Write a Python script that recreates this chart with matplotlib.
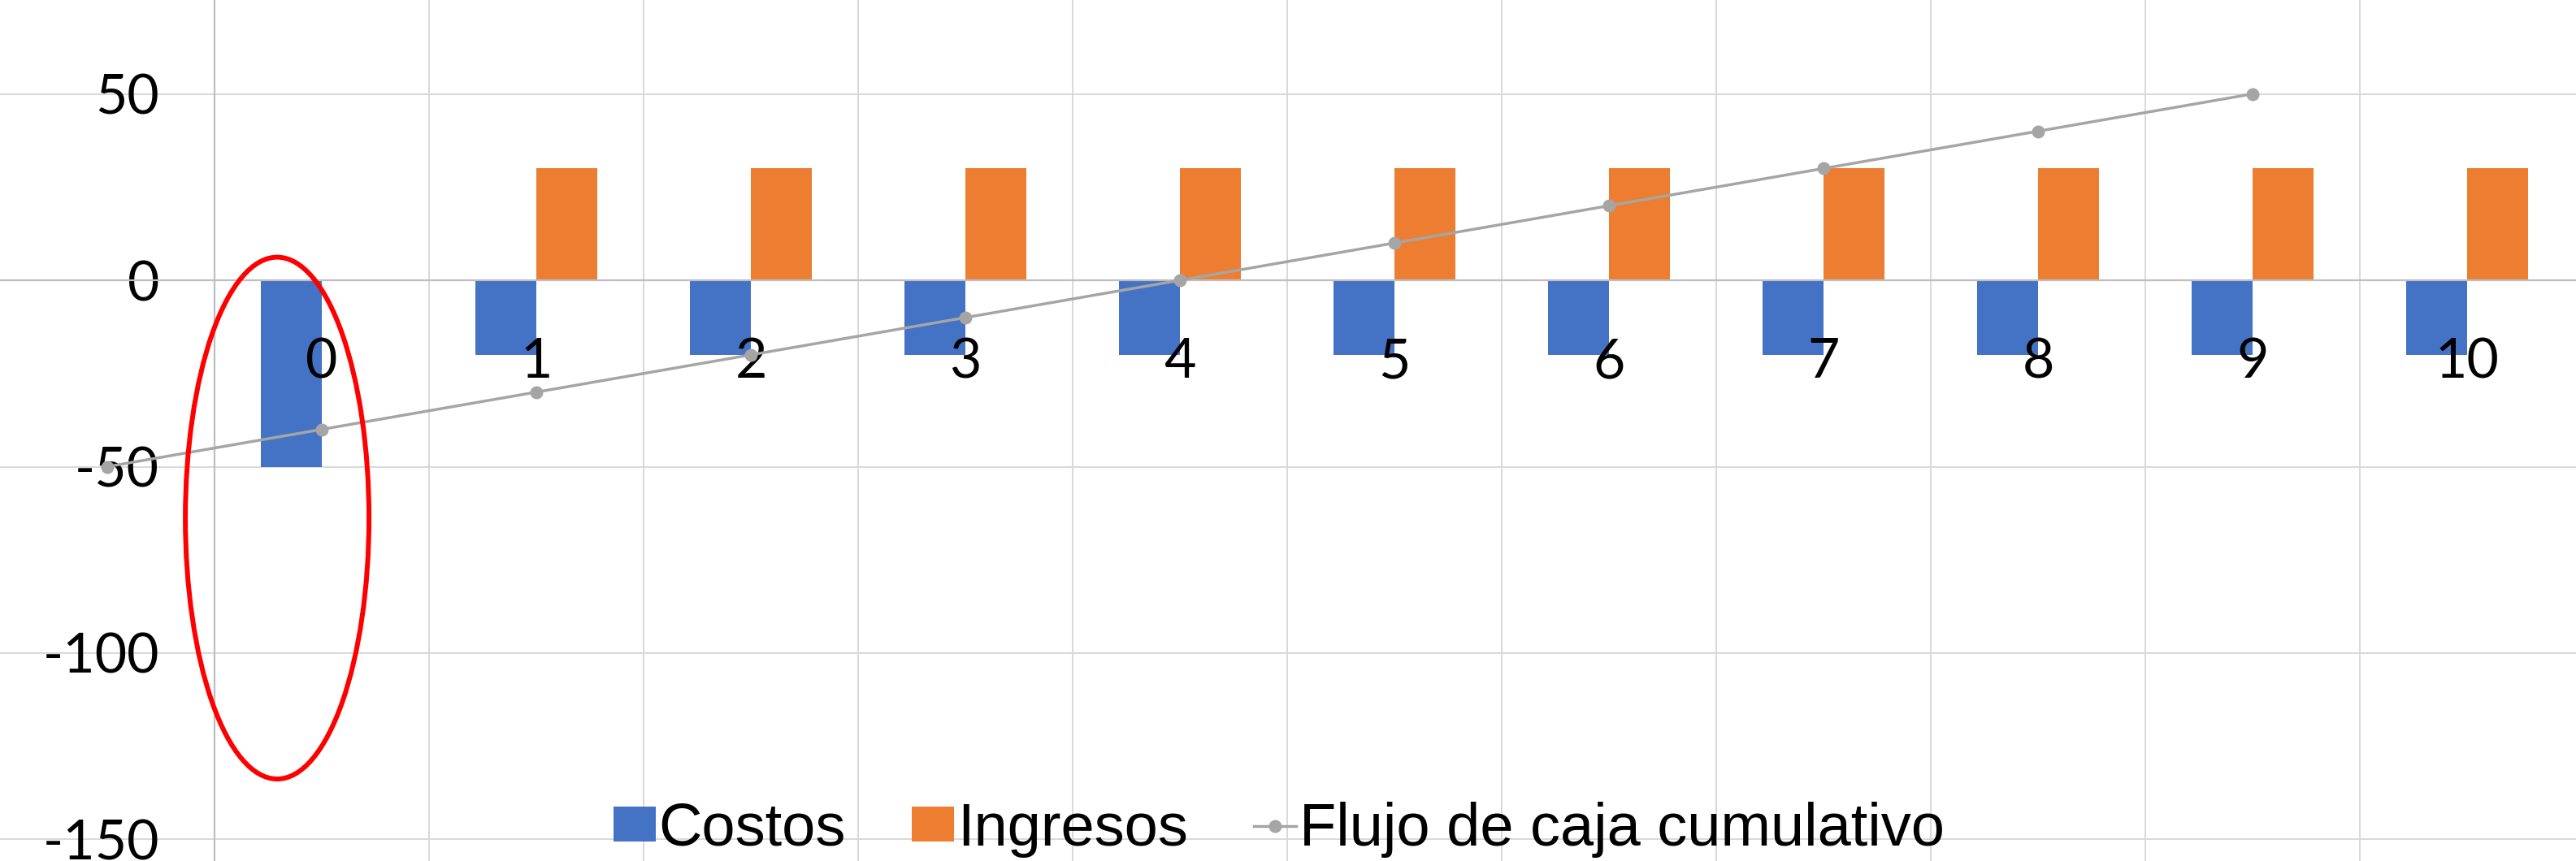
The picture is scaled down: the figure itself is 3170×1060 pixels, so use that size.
import numpy as np
import matplotlib
matplotlib.use("Agg")
import matplotlib.pyplot as plt
from matplotlib.patches import Ellipse

# datos (la primera categoria no tiene etiqueta)
categorias = ['', '0', '1', '2', '3', '4', '5', '6', '7', '8', '9', '10']
costos = [np.nan, -50, -20, -20, -20, -20, -20, -20, -20, -20, -20, -20]
ingresos = [np.nan, 0, 30, 30, 30, 30, 30, 30, 30, 30, 30, 30]
flujo = [-50, -40, -30, -20, -10, 0, 10, 20, 30, 40, 50, np.nan]
yticks = [-150, -100, -50, 0, 50]

azul = '#4472C4'
naranja = '#ED7D31'
gris = '#A5A5A5'

plt.rcParams['font.family'] = ['Lato', 'DejaVu Sans']
plt.rcParams['axes.unicode_minus'] = False

fig = plt.figure(figsize=(31.7, 10.6), dpi=100)
ax = fig.add_axes([0, 0, 1, 1])

x = np.arange(len(categorias))
w = 0.285

b1 = ax.bar(x - w / 2, costos, w, color=azul, label='Costos', zorder=2)
b2 = ax.bar(x + w / 2, ingresos, w, color=naranja, label='Ingresos', zorder=2)
l1, = ax.plot(x, flujo, '-o', color=gris, lw=2.5, ms=10.5,
              label='Flujo de caja cumulativo', zorder=4)

# etiquetas de categoria junto al eje horizontal
for xi, c in zip(x, categorias):
    ax.annotate(c, xy=(xi, 0), xytext=(0, -120), textcoords='offset pixels',
                ha='center', va='baseline', fontsize=49, zorder=3)

ax.set_xlim(-0.5, -0.5 + 3170 / 264)
ax.set_ylim(-155.8, 75.2)
ax.set_xticks(x[:-1] + 0.5)
ax.set_xticklabels([])
ax.set_yticks(yticks)
ax.tick_params(axis='x', length=0)
ax.tick_params(axis='y', length=0, labelsize=49, pad=49)
ax.grid(True, color='#D9D9D9', lw=1.44, zorder=0)
ax.set_axisbelow(True)

for s in ['top', 'right']:
    ax.spines[s].set_visible(False)
ax.spines['left'].set_position(('data', 0.5))
ax.spines['bottom'].set_position(('data', 0))
for s in ['left', 'bottom']:
    ax.spines[s].set_color('#BFBFBF')
    ax.spines[s].set_linewidth(1.6)

# marca roja alrededor del periodo 0
ax.add_patch(Ellipse((0.792, -63.8), 0.856, 140, fill=False,
                     edgecolor='#FF0000', lw=4.3, zorder=5))

leg = fig.legend([b1, b2, l1], ['Costos', 'Ingresos', 'Flujo de caja cumulativo'],
                 loc='lower center', bbox_to_anchor=(1574 / 3170, 0.004),
                 ncol=3, frameon=False, borderpad=0, borderaxespad=0,
                 handlelength=0.7, handleheight=0.51, handletextpad=0.05,
                 columnspacing=1.1,
                 prop={'family': 'Liberation Sans', 'size': 53.3})

fig.savefig('out.png', dpi=100)
